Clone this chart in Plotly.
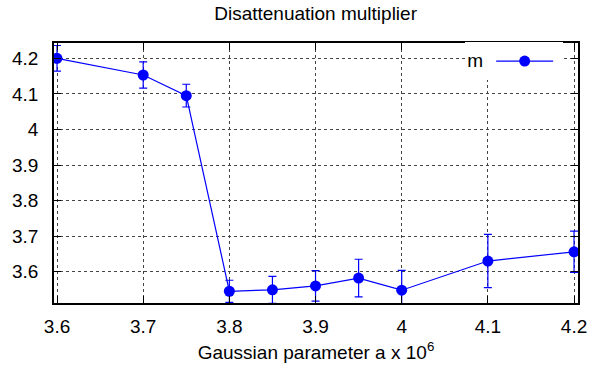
import plotly.graph_objects as go

a_vals = [3.60, 3.70, 3.75, 3.80, 3.85, 3.90, 3.95, 4.00, 4.10, 4.20]
m_vals = [4.200, 4.153, 4.095, 3.545, 3.549, 3.560, 3.582, 3.548, 3.630, 3.656]
m_err = [0.036, 0.037, 0.032, 0.031, 0.038, 0.043, 0.053, 0.056, 0.075, 0.058]

x_ticks = [3.6, 3.7, 3.8, 3.9, 4.0, 4.1, 4.2]
x_ticklabels = ["3.6", "3.7", "3.8", "3.9", "4", "4.1", "4.2"]
y_ticks = [3.6, 3.7, 3.8, 3.9, 4.0, 4.1, 4.2]
y_ticklabels = ["3.6", "3.7", "3.8", "3.9", "4", "4.1", "4.2"]

FONT = "Liberation Sans, Arial, sans-serif"
BLUE = "#0000ff"
FS = 19

fig = go.Figure()
fig.add_trace(go.Scatter(
    x=a_vals, y=m_vals, name="",
    mode="lines+markers",
    line=dict(color=BLUE, width=1.2),
    marker=dict(color=BLUE, size=11),
    error_y=dict(type="data", array=m_err, visible=True, color=BLUE, thickness=1.2, width=4),
    showlegend=True,
    cliponaxis=True,
))

axis_common = dict(
    showline=True, linecolor="black", linewidth=1.5, mirror="allticks",
    ticks="inside", ticklen=7, tickcolor="black", tickwidth=1,
    showgrid=True, gridcolor="#444444", griddash="dot", gridwidth=1,
    zeroline=False,
    tickfont=dict(family=FONT, size=FS, color="black"),
)

fig.update_layout(
    width=614, height=372,
    margin=dict(l=52, r=36, t=43, b=68),
    paper_bgcolor="white", plot_bgcolor="white",
    title=dict(text="Disattenuation multiplier", x=0.514, xanchor="center",
               y=1 - 13 / 372, yanchor="middle", yref="container",
               font=dict(family=FONT, size=FS, color="black")),
    xaxis=dict(range=[3.5965, 4.2046], tickvals=x_ticks, ticktext=x_ticklabels,
               title=dict(text="Gaussian parameter a x 10<sup>6</sup>",
                          font=dict(family=FONT, size=FS, color="black"), standoff=10),
               ticklabelstandoff=5, **axis_common),
    yaxis=dict(range=[3.512, 4.243], tickvals=y_ticks, ticktext=y_ticklabels,
               ticklabelstandoff=10, **axis_common),
    legend=dict(x=0.785, y=0.93, xanchor="left", yanchor="middle",
                bgcolor="white", borderwidth=0,
                title=dict(text="m", side="left", font=dict(family=FONT, size=FS, color="black")),
                font=dict(family=FONT, size=FS, color="black"),
                itemwidth=57),
    showlegend=True,
)

fig.write_html("out.html")
